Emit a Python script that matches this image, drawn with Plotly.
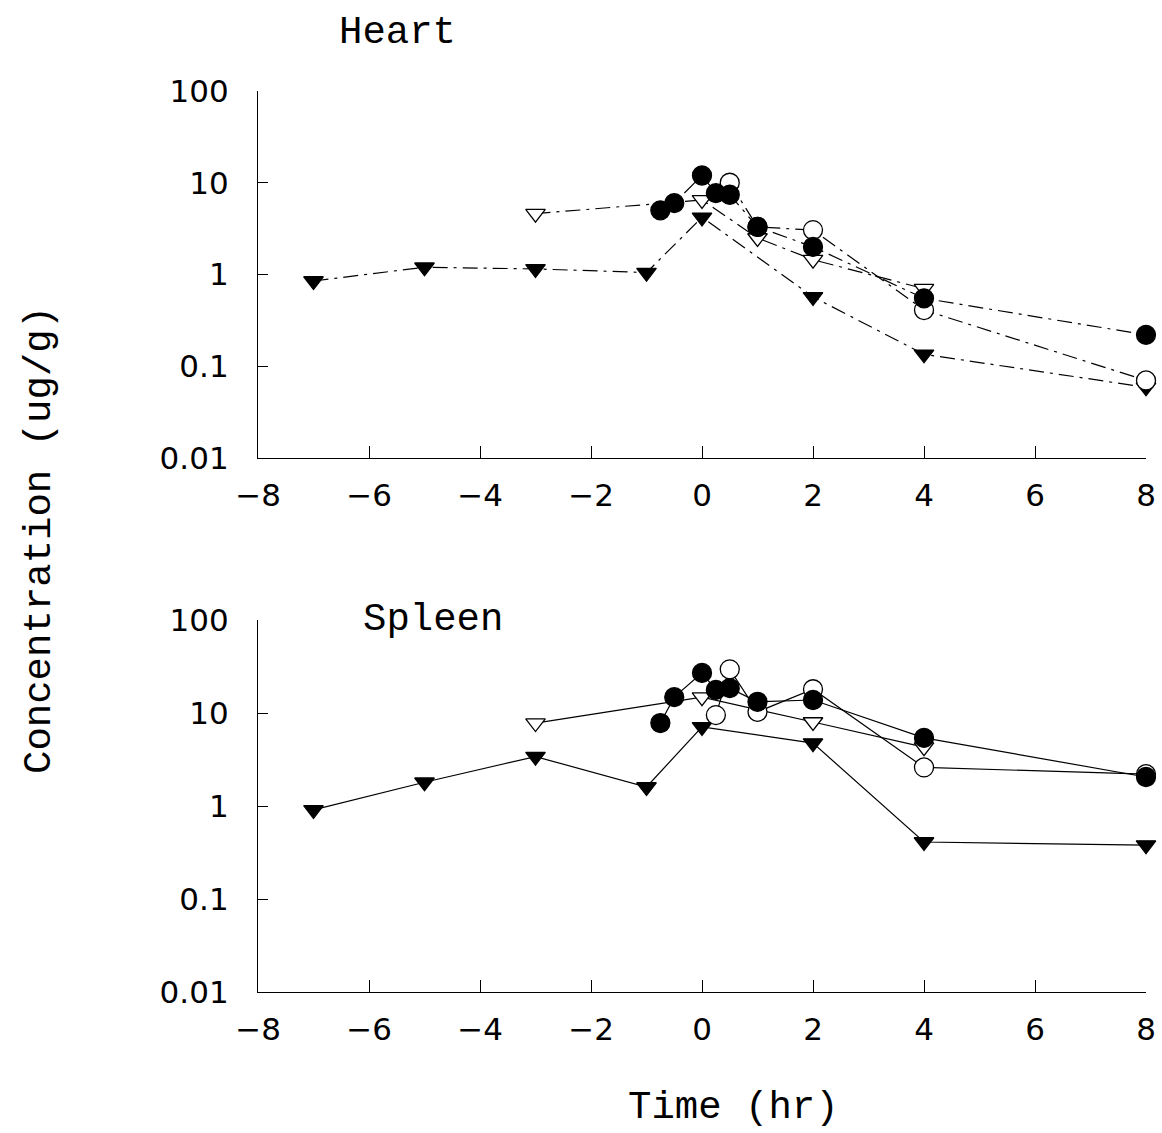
import plotly.graph_objects as go

# ---------------- data ----------------
x_tri_filled = [-7, -5, -3, -1, 0, 2, 4, 8]
x_tri_open_heart = [-3, 0, 1, 2, 4]
x_tri_open_spleen = [-3, 0, 2, 4]
x_circ_filled = [-0.75, -0.5, 0, 0.25, 0.5, 1, 2, 4, 8]
x_circ_open_heart = [0.5, 1, 2, 4, 8]
x_circ_open_spleen = [0.25, 0.5, 1, 2, 4, 8]

heart_tri_filled = [0.85, 1.2, 1.15, 1.05, 4.2, 0.57, 0.135, 0.059]
heart_tri_open = [4.6, 6.5, 2.5, 1.45, 0.7]
heart_circ_filled = [5.0, 6.0, 12, 7.7, 7.4, 3.3, 2.0, 0.55, 0.22]
heart_circ_open = [10, 3.3, 3.05, 0.41, 0.07]

spleen_tri_filled = [0.91, 1.8, 3.4, 1.6, 7.1, 4.75, 0.41, 0.38]
spleen_tri_open = [7.8, 14.8, 8.0, 4.3]
spleen_circ_filled = [7.8, 14.8, 27, 17.7, 18.5, 13.2, 13.8, 5.4, 2.05]
spleen_circ_open = [9.5, 29.5, 10.3, 18, 2.6, 2.2]

x_ticks = [-8, -6, -4, -2, 0, 2, 4, 6, 8]
y_ticks = [0.01, 0.1, 1, 10, 100]
y_ticktext = ["0.01", "0.1", "1", "10", "100"]

# ---------------- figure ----------------
fig = go.Figure()

def add_series(x, y, symbol, filled, xa, ya, dash, size):
    fig.add_trace(go.Scatter(
        x=x, y=y, mode="lines+markers",
        xaxis=xa, yaxis=ya,
        line=dict(color="black", width=1.2, dash=dash),
        marker=dict(symbol=symbol, size=size,
                    color="black" if filled else "white",
                    line=dict(color="black", width=1.3)),
        cliponaxis=False, showlegend=False,
    ))

top_dash = "longdashdot"
add_series(x_tri_filled, heart_tri_filled, "triangle-down", True, "x", "y", top_dash, 17)
add_series(x_tri_open_heart, heart_tri_open, "triangle-down", False, "x", "y", top_dash, 17)
add_series(x_circ_open_heart, heart_circ_open, "circle", False, "x", "y", top_dash, 19)
add_series(x_circ_filled, heart_circ_filled, "circle", True, "x", "y", top_dash, 19)

add_series(x_tri_filled, spleen_tri_filled, "triangle-down", True, "x2", "y2", "solid", 17)
add_series(x_tri_open_spleen, spleen_tri_open, "triangle-down", False, "x2", "y2", "solid", 17)
add_series(x_circ_open_spleen, spleen_circ_open, "circle", False, "x2", "y2", "solid", 19)
add_series(x_circ_filled, spleen_circ_filled, "circle", True, "x2", "y2", "solid", 19)

W, H = 1162, 1133
xdom = [258 / W, 1146 / W]
top_dom = [1 - 458 / H, 1 - 91 / H]
bot_dom = [1 - 992 / H, 1 - 620 / H]

tick_font = dict(family="DejaVu Sans", size=31, color="black")

xax = dict(range=[-8, 8], tickvals=x_ticks, showline=True, linecolor="black",
           linewidth=1.3, ticks="inside", ticklen=12, tickcolor="black",
           showgrid=False, zeroline=False, tickfont=tick_font,
           ticklabelstandoff=10, domain=xdom, automargin=False)
yax = dict(type="log", range=[-2, 2], tickvals=y_ticks, ticktext=y_ticktext,
           showline=True, linecolor="black", linewidth=1.3, ticks="inside",
           ticklen=10, tickcolor="black", showgrid=False, zeroline=False,
           tickfont=tick_font, ticklabelstandoff=22, automargin=False)

fig.update_layout(
    width=W, height=H,
    margin=dict(l=0, r=0, t=0, b=0, pad=0, autoexpand=False),
    paper_bgcolor="white", plot_bgcolor="white",
    xaxis=dict(**xax, anchor="y"),
    yaxis=dict(**yax, domain=top_dom, anchor="x"),
    xaxis2=dict(**xax, anchor="y2"),
    yaxis2=dict(**yax, domain=bot_dom, anchor="x2"),
)

label_font = dict(family="Liberation Mono", size=39, color="black")
ann = [
    dict(text="Heart", x=397 / W, y=1 - 33 / H),
    dict(text="Spleen", x=433 / W, y=1 - 620 / H),
    dict(text="Time (hr)", x=733 / W, y=1 - 1108 / H),
    dict(text="Concentration (ug/g)", x=40 / W, y=1 - 540 / H, textangle=-90),
]
for a in ann:
    fig.add_annotation(xref="paper", yref="paper", showarrow=False,
                       xanchor="center", yanchor="middle", font=label_font, **a)

fig.write_html(
    "out.html",
    post_script="document.body.style.margin='0';document.body.style.overflow='hidden';",
)
